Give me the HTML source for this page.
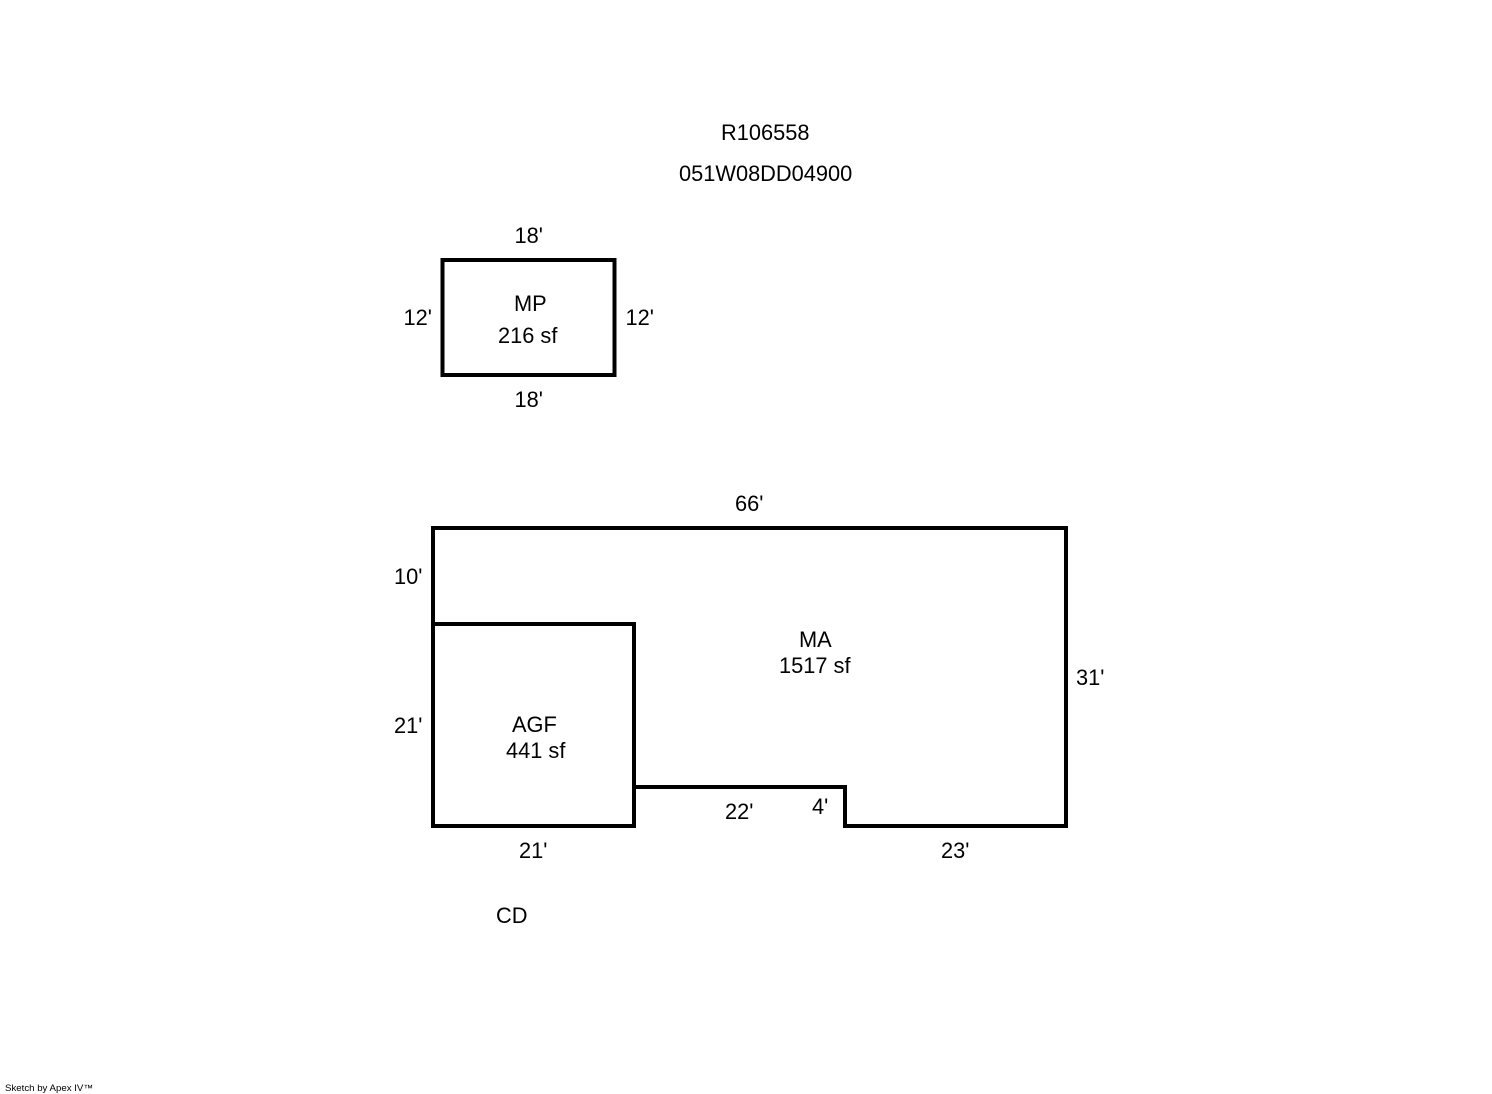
<!DOCTYPE html>
<html>
<head>
<meta charset="utf-8">
<title>Sketch</title>
<style>
html,body{margin:0;padding:0;background:#fff;}
svg{display:block;}
text{font-family:"Liberation Sans",Arial,sans-serif;font-size:21.8px;fill:#000;}
.s{font-size:9px;}
</style>
</head>
<body>
<svg width="1492" height="1094" viewBox="0 0 1492 1094" xmlns="http://www.w3.org/2000/svg">
<rect width="1492" height="1094" fill="#fff"/>
<g fill="none" stroke="#000" stroke-width="4" shape-rendering="crispEdges" stroke-linecap="square">
<rect x="442.5" y="260" width="172" height="115"/>
<path d="M433 528H1066V826H845V787H634"/>
<rect x="433" y="624" width="201" height="202"/>
<path d="M433 528V624"/>
</g>
<text x="721" y="140">R106558</text>
<text x="679" y="181">051W08DD04900</text>
<text x="514.5" y="243">18'</text>
<text x="514" y="311">MP</text>
<text x="498" y="343">216 sf</text>
<text x="403.5" y="325">12'</text>
<text x="625.5" y="325">12'</text>
<text x="514.5" y="407">18'</text>
<text x="735" y="511">66'</text>
<text x="394" y="584">10'</text>
<text x="799" y="647">MA</text>
<text x="779" y="673">1517 sf</text>
<text x="512" y="732">AGF</text>
<text x="506" y="758">441 sf</text>
<text x="394" y="733">21'</text>
<text x="1076" y="685">31'</text>
<text x="725" y="819">22'</text>
<text x="812" y="814">4'</text>
<text x="519" y="858">21'</text>
<text x="941" y="858">23'</text>
<text x="496" y="923">CD</text>
<text class="s" x="5" y="1091" textLength="88" lengthAdjust="spacingAndGlyphs">Sketch by Apex IV™</text>
</svg>
</body>
</html>
